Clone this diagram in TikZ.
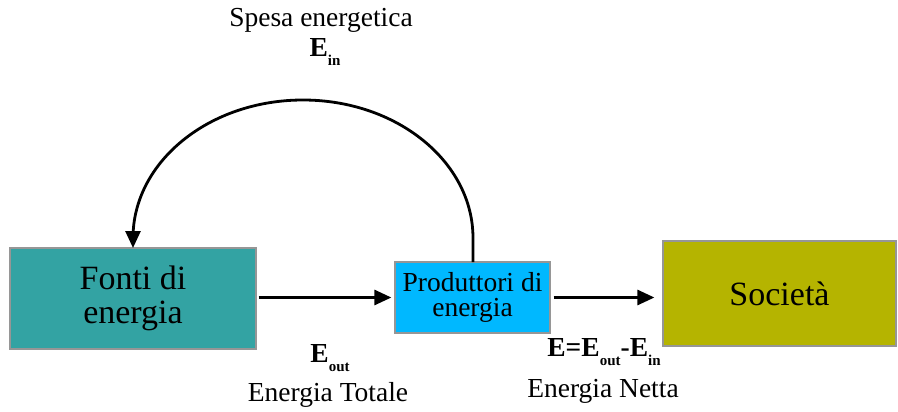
\documentclass[tikz,border=0pt]{standalone}
\usepackage{fontspec}
\setmainfont{Liberation Serif}
\usetikzlibrary{arrows.meta}
\definecolor{tealbox}{RGB}{51,163,163}
\definecolor{bluebox}{RGB}{0,184,255}
\definecolor{olivebox}{RGB}{181,180,0}
\definecolor{edgegrey}{RGB}{150,150,150}
\newcommand{\bigtxt}{\fontsize{34}{38}\selectfont}
\newcommand{\midtxt}{\fontsize{27.5}{30}\selectfont}
\newcommand{\subtxt}{\fontsize{15}{17}\selectfont\bfseries}
\newcommand{\Esub}[1]{\textbf{E}\raisebox{-0.35em}{\subtxt #1}}
\begin{document}
\begin{tikzpicture}[x=1pt,y=-1pt,
  box/.style={draw=edgegrey,line width=1.2pt,inner sep=0pt,align=center},
  arr/.style={line width=2.8pt,-{Triangle[length=17pt,width=15pt]}},
  lbl/.style={inner sep=0pt,align=center}]
\useasboundingbox (0,0) rectangle (898,412);
\node[box,fill=tealbox,minimum width=246pt,minimum height=101pt,font=\bigtxt] (fonti) at (133,298.5) {Fonti di\\[-4pt]energia};
\node[box,fill=bluebox,minimum width=155pt,minimum height=71pt,font=\midtxt] (prod) at (472.5,297.5) {Produttori di\\[-5pt]energia};
\node[box,fill=olivebox,minimum width=233pt,minimum height=105pt,font=\bigtxt] (soc) at (779.5,293.5) {Società};
\coordinate (astart) at (473,262);
\coordinate (aend) at (133,248);
\draw[arr] (astart) -- (473,238) .. controls (473,161.8) and (396.9,100) .. (303,100)
  .. controls (209.1,100) and (133,161.8) .. (133,238) -- (aend);
\draw[arr,shorten <=2pt,shorten >=3pt] (fonti.east |- prod.west) -- (prod.west);
\draw[arr,shorten <=3pt,shorten >=8pt] (prod.east) -- (prod.east -| soc.west);
\node[lbl,font=\midtxt] (spesa) at (321,20) {Spesa energetica};
\node[lbl,font=\midtxt] (ein) at (325,52) {\Esub{in}};
\node[lbl,font=\midtxt] (eout) at (330,358) {\Esub{out}};
\node[lbl,font=\midtxt] (etot) at (328,395) {Energia Totale};
\node[lbl,font=\midtxt] (enet) at (604,352) {\textbf{E=}\Esub{out}\textbf{-}\Esub{in}};
\node[lbl,font=\midtxt] (netta) at (603,391) {Energia Netta};
\end{tikzpicture}
\end{document}
